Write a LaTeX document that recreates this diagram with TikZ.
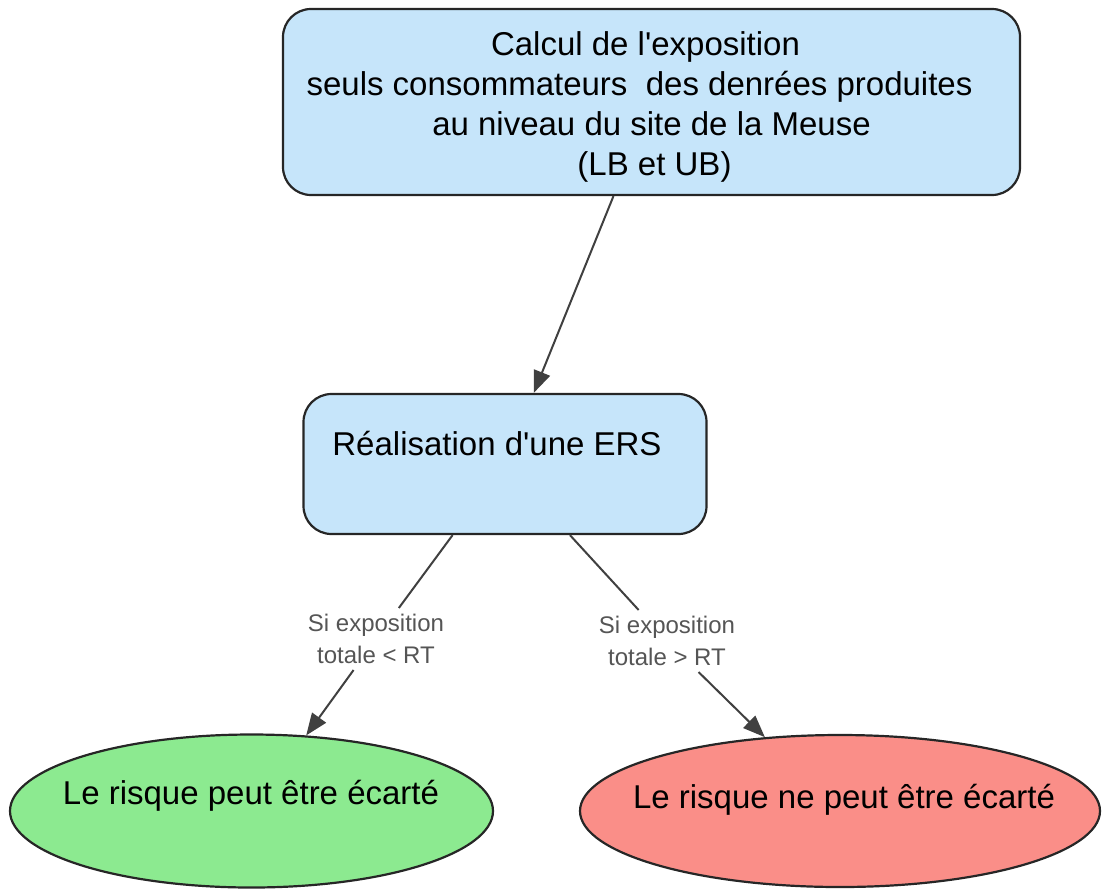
\documentclass[tikz,border=0pt]{standalone}
\usepackage{fontspec}
\setmainfont{Liberation Sans}
\usetikzlibrary{shapes.geometric,arrows.meta}
\definecolor{boxblue}{HTML}{C6E5FA}
\definecolor{okgreen}{HTML}{8CEA90}
\definecolor{nogred}{HTML}{FA8E88}
\definecolor{linegray}{HTML}{404040}
\definecolor{labgray}{HTML}{555555}
\tikzset{
  stepbox/.style={draw=black!85, line width=2.2pt, rounded corners=28pt, fill=boxblue},
  outcome/.style={draw=black!85, line width=2.2pt, ellipse, inner sep=0pt},
  bigtext/.style={font=\fontsize{33}{38}\selectfont},
  toptext/.style={align=center, font=\fontsize{33}{40}\selectfont},
  cond/.style={text=labgray, align=center, font=\fontsize{24}{32}\selectfont, inner sep=6pt},
  link/.style={draw=linegray, line width=2pt},
  arr/.style={link, -{Triangle[length=22pt,width=17pt]}}
}
\begin{document}
\begin{tikzpicture}[x=1pt,y=-1pt]
\useasboundingbox (0,0) rectangle (1105,892);
\node[stepbox, minimum width=737pt, minimum height=186pt] (top) at (651.5,102) {};
\node[toptext] (toptxt) at (651.5,107)
  {Calcul de l\textquotesingle exposition\kern12pt\\seuls consommateurs\ \ des denrées produites\kern24pt\\au niveau du site de la Meuse\\\hspace*{6pt}(LB et UB)};
\node[stepbox, minimum width=403pt, minimum height=140pt] (mid) at (505,464) {};
\node[bigtext] (midtxt) at (497,444) {Réalisation d\textquotesingle une ERS};
\node[outcome, fill=okgreen, minimum width=483pt, minimum height=153pt] (ok) at (251.5,811) {};
\node[bigtext] (oktxt) at (251,796) {Le risque peut être écarté};
\node[outcome, fill=nogred, minimum width=520pt, minimum height=152pt] (no) at (840,811) {};
\node[bigtext] (notxt) at (844,799.5) {Le risque ne peut être écarté};
\node[cond] (lblL) at (376,639) {Si exposition\\totale < RT};
\node[cond] (lblR) at (667,641) {Si exposition\\totale > RT};
\draw[arr] (top) -- (mid);
\draw[link] (mid) -- (lblL);
\draw[arr] (lblL) -- (ok);
\draw[link] (mid) -- (lblR);
\draw[arr] (lblR) -- (no);
\end{tikzpicture}
\end{document}
